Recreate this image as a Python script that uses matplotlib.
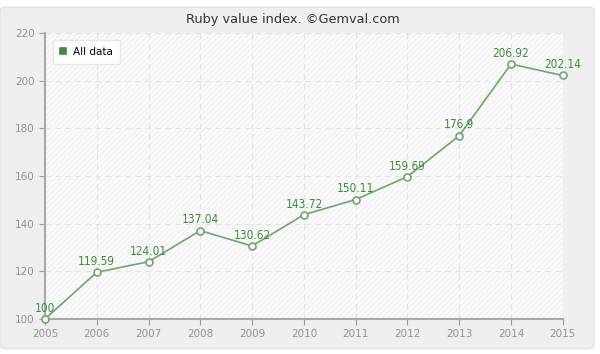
import matplotlib.pyplot as plt
from matplotlib.patches import FancyBboxPatch, Rectangle

# Ruby value index data
years = [2005, 2006, 2007, 2008, 2009, 2010, 2011, 2012, 2013, 2014, 2015]
values = [100, 119.59, 124.01, 137.04, 130.62, 143.72, 150.11, 159.69, 176.9, 206.92, 202.14]
labels = ['100', '119.59', '124.01', '137.04', '130.62', '143.72', '150.11', '159.69', '176.9', '206.92', '202.14']
y_ticks = [100, 120, 140, 160, 180, 200, 220]

line_color = '#6fa56f'
label_color = '#3d8b3d'
tick_color = '#909090'

fig = plt.figure(figsize=(6, 3.54), dpi=100, facecolor='#ffffff')

# outer gray panel
fig.patches.append(FancyBboxPatch((0.0, 0.015), 0.99, 0.965, boxstyle='round,pad=0,rounding_size=0.01',
                                  transform=fig.transFigure, facecolor='#efefef',
                                  edgecolor='#e2e2e2', linewidth=1, zorder=-10))

ax = fig.add_axes([0.075, 0.099, 0.863, 0.808])
ax.set_facecolor('#fbfbfb')
ax.add_patch(Rectangle((0, 0), 1, 1, transform=ax.transAxes, facecolor='none',
                       edgecolor='#f1f1f1', hatch='//////', linewidth=0, zorder=0))

ax.plot(years, values, color=line_color, linewidth=1.2, marker='o', markersize=5,
        markerfacecolor='white', markeredgecolor=line_color, markeredgewidth=1.2,
        label='All data', zorder=3, clip_on=False)

for x, y, t in zip(years, values, labels):
    ax.annotate(t, (x, y), xytext=(0, 3), textcoords='offset points', ha='center',
                va='bottom', fontsize=8.5, color=label_color, zorder=4,
                fontstretch='condensed')

ax.set_xlim(2005, 2015)
ax.set_ylim(100, 220)
ax.set_xticks(years)
ax.set_yticks(y_ticks)
ax.tick_params(axis='both', colors='#9a9a9a', labelcolor=tick_color, labelsize=7.5, length=4)
ax.grid(True, color='#e3e3e3', linestyle=(0, (5, 4)), linewidth=0.8)
ax.set_axisbelow(True)

for side in ['top', 'right']:
    ax.spines[side].set_visible(False)
for side in ['left', 'bottom']:
    ax.spines[side].set_color('#a8a8a8')
    ax.spines[side].set_linewidth(1.5)

fig.text(0.488, 0.945, 'Ruby value index. \u00a9Gemval.com', ha='center', va='center',
         fontsize=9.3, color='#333333')

leg = ax.legend(loc='upper left', fontsize=7.5, frameon=True, fancybox=True, handlelength=0.5,
                handletextpad=0.7, borderpad=0.7, bbox_to_anchor=(0.005, 0.995), markerscale=0.8)
leg.get_frame().set_facecolor('white')
leg.get_frame().set_edgecolor('#e6e6e6')
leg.get_frame().set_alpha(1)
for h in leg.legend_handles:
    h.set_linestyle('None')
    h.set_marker('s')
    h.set_markerfacecolor('#3d8b3d')
    h.set_markeredgecolor('#3d8b3d')
    h.set_markersize(4)

fig.savefig('out.png', dpi=100, facecolor=fig.get_facecolor())
